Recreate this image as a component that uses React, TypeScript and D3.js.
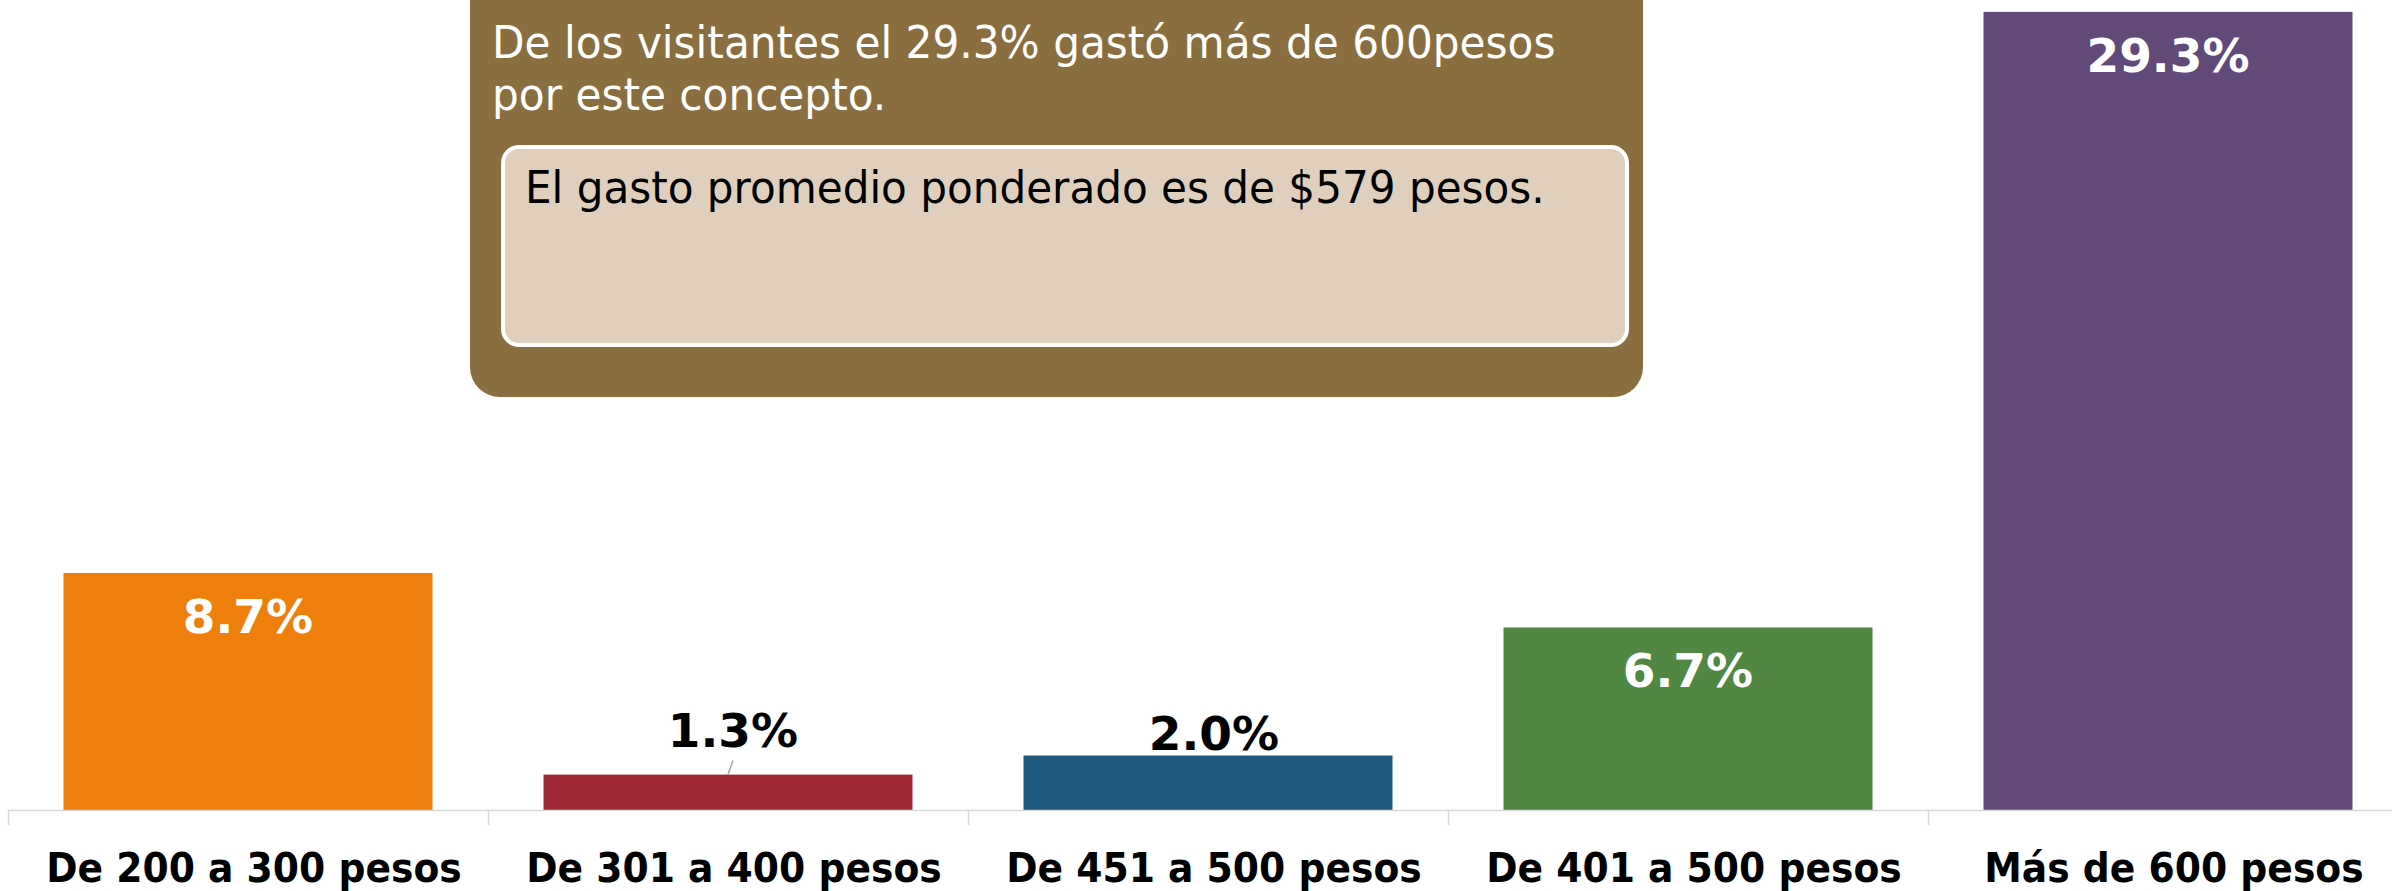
import React from "react";
import * as d3 from "d3";

const categories = [
  "De 200 a 300 pesos",
  "De 301 a 400 pesos",
  "De 451 a 500 pesos",
  "De 401 a 500 pesos",
  "Más de 600 pesos",
];
const values = [8.7, 1.3, 2.0, 6.7, 29.3];
const barColors = ["#EF7F0C", "#A12A38", "#1F5A7E", "#4F8743", "#614A79"];
const calloutTitle = [
  "De los visitantes el 29.3% gastó más de 600pesos",
  "por este concepto.",
];
const calloutInner = "El gasto promedio ponderado es de $579 pesos.";

const W = 2392;
const H = 891;

// label placement: inside (white) or above (black)
const labelInside = [true, false, false, true, true];
const labelAboveDy = [0, -28, -6, 0, 0];
const labelDx = [0, 5, 6, 0, 0];

const FONT = "DejaVu Sans, Verdana, sans-serif";

export default function App() {
  const x = d3
    .scaleBand<string>()
    .domain(categories)
    .range([8, 8 + 480 * categories.length])
    .paddingInner(0.23125)
    .paddingOuter(0.115625);
  const y = d3.scaleLinear().domain([0, 30]).range([810, 810 - 30 * 27.24]);
  const step = x.step();
  const fmt = (v: number) => v.toFixed(1) + "%";

  return (
    <svg
      width={W}
      height={H}
      style={{ position: "absolute", left: 0, top: 0, display: "block", background: "#fff" }}
    >
      {/* bars */}
      {categories.map((c, i) => (
        <rect
          key={c}
          x={x(c)}
          y={y(values[i])}
          width={x.bandwidth()}
          height={y(0) - y(values[i])}
          fill={barColors[i]}
        />
      ))}
      {/* axis */}
      <line x1={8} x2={W} y1={y(0) + 0.5} y2={y(0) + 0.5} stroke="#D9D9D9" strokeWidth={1.5} />
      {d3.range(categories.length + 1).map((k) => (
        <line
          key={k}
          x1={8 + step * k + 0.5}
          x2={8 + step * k + 0.5}
          y1={y(0)}
          y2={y(0) + 15}
          stroke="#D9D9D9"
          strokeWidth={1.5}
        />
      ))}
      {/* category labels */}
      {categories.map((c) => (
        <text
          key={c}
          transform={`translate(${(x(c) as number) + x.bandwidth() / 2 + 6},882) scale(0.92,1)`}
          textAnchor="middle"
          fontFamily={FONT}
          fontWeight="bold"
          fontSize={41}
          fill="#000"
        >
          {c}
        </text>
      ))}
      {/* leader line for 1.3% */}
      <line
        x1={(x(categories[1]) as number) + x.bandwidth() / 2 + 5}
        y1={y(values[1]) - 14}
        x2={(x(categories[1]) as number) + x.bandwidth() / 2}
        y2={y(values[1])}
        stroke="#A6A6A6"
        strokeWidth={1.5}
      />
      {/* value labels */}
      {categories.map((c, i) => (
        <text
          key={c}
          x={(x(c) as number) + x.bandwidth() / 2 + labelDx[i]}
          y={labelInside[i] ? y(values[i]) + 60 : y(values[i]) + labelAboveDy[i]}
          textAnchor="middle"
          fontFamily={FONT}
          fontWeight="bold"
          fontSize={47}
          fill={labelInside[i] ? "#FFFFFF" : "#000000"}
        >
          {fmt(values[i])}
        </text>
      ))}
      {/* callout */}
      <rect x={470} y={-30} width={1173} height={427} rx={30} ry={30} fill="#8B6E3F" />
      {calloutTitle.map((t, i) => (
        <text
          key={i}
          transform={`translate(492,${58 + i * 52}) scale(0.96,1)`}
          fontFamily={FONT}
          fontSize={44}
          fill="#FFFFFF"
        >
          {t}
        </text>
      ))}
      <rect
        x={503}
        y={147}
        width={1124}
        height={198}
        rx={16}
        ry={16}
        fill="#DFCFBC"
        stroke="#FFFFFF"
        strokeWidth={4}
      />
      <text
        transform="translate(525,203) scale(0.936,1)"
        fontFamily={FONT}
        fontSize={45}
        fill="#000"
      >
        {calloutInner}
      </text>
    </svg>
  );
}
